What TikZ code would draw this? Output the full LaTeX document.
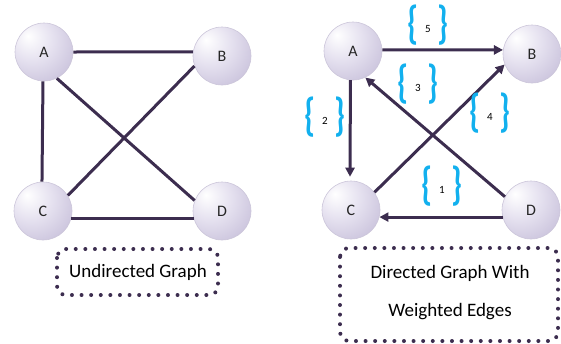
\documentclass[tikz,border=0pt]{standalone}
\usepackage{fontspec}
\setmainfont{Carlito}
\usetikzlibrary{arrows.meta}
\definecolor{edgec}{HTML}{3C2D4F}
\definecolor{lav1}{HTML}{E6E2F0}
\definecolor{lav2}{HTML}{B9B0D0}
\definecolor{ballrim}{HTML}{CCC6DA}
\definecolor{bracec}{HTML}{12B0EE}
\pgfdeclareradialshading{vball}{\pgfpoint{-14bp}{14bp}}{color(0bp)=(white); color(18bp)=(lav1); color(50bp)=(lav2); color(80bp)=(lav2)}
\newcommand{\wbr}[1]{{\fontsize{46}{46}\selectfont\bfseries\color{bracec}\scalebox{0.7}[1]{#1}}}
\newcommand{\wlab}[1]{\wbr{\{}\hspace{7pt}\raisebox{6pt}{\fontsize{11}{11}\selectfont #1}\hspace{7pt}\wbr{\}}}
\tikzset{
  vert/.style={circle, minimum size=58pt, inner sep=0pt, shading=vball, draw=ballrim, line width=0.6pt, font=\fontsize{16}{16}\selectfont, text=black!85},
  uedge/.style={draw=edgec, line width=3pt},
  dedge/.style={draw=edgec, line width=3pt, -{Triangle[length=9pt,width=9pt]}},
  dotbox/.style={draw=edgec, line width=4pt, line cap=round, dash pattern=on 0pt off 9.6pt, rounded corners=9pt},
  wnode/.style={inner sep=0pt, anchor=center},
  boxtext/.style={font=\fontsize{19}{19}\selectfont, text=black}
}
\begin{document}
\begin{tikzpicture}[x=1pt,y=-1pt]
\useasboundingbox (0,0) rectangle (561,343);
% left graph
\node[vert] (A) at (44,52) {A};
\node[vert] (B) at (222,56) {B};
\node[vert] (C) at (43,211) {C};
\node[vert] (D) at (222,211) {D};
\draw[uedge] (A.0) -- (B.172);
\draw[uedge] (A.-92) -- (C.92);
\draw[uedge] (A.-64) -- (D.159);
\draw[uedge] (C.32) -- (B.200);
\draw[uedge] (C.-14) -- (D.194);
\draw[dotbox] (57,249) rectangle (218,295);
\node[boxtext] (lt) at (138,272) {Undirected Graph};
% right graph
\node[vert] (A2) at (353,51) {A};
\node[vert] (B2) at (532,54) {B};
\node[vert] (C2) at (351,210) {C};
\node[vert] (D2) at (531,210) {D};
\draw[dedge] (A2.2) -- (B2.172);
\draw[dedge, shorten >=4pt] (A2.-95) -- (C2.92);
\draw[dedge] (D2.153) -- (A2.-65);
\draw[dedge] (C2.37) -- (B2.201);
\draw[dedge] (D2.194) -- (C2.-14);
\node[wnode] (w5) at (428,25) {\wlab{5}};
\node[wnode] (w3) at (418,84) {\wlab{3}};
\node[wnode] (w2) at (325,117) {\wlab{2}};
\node[wnode] (w4) at (490,113) {\wlab{4}};
\node[wnode] (w1) at (442,186) {\wlab{1}};
\draw[dotbox] (340,248) rectangle (558,341);
\node[boxtext] (rt1) at (450,273) {Directed Graph With};
\node[boxtext] (rt2) at (450,312) {Weighted Edges};
\end{tikzpicture}
\end{document}
